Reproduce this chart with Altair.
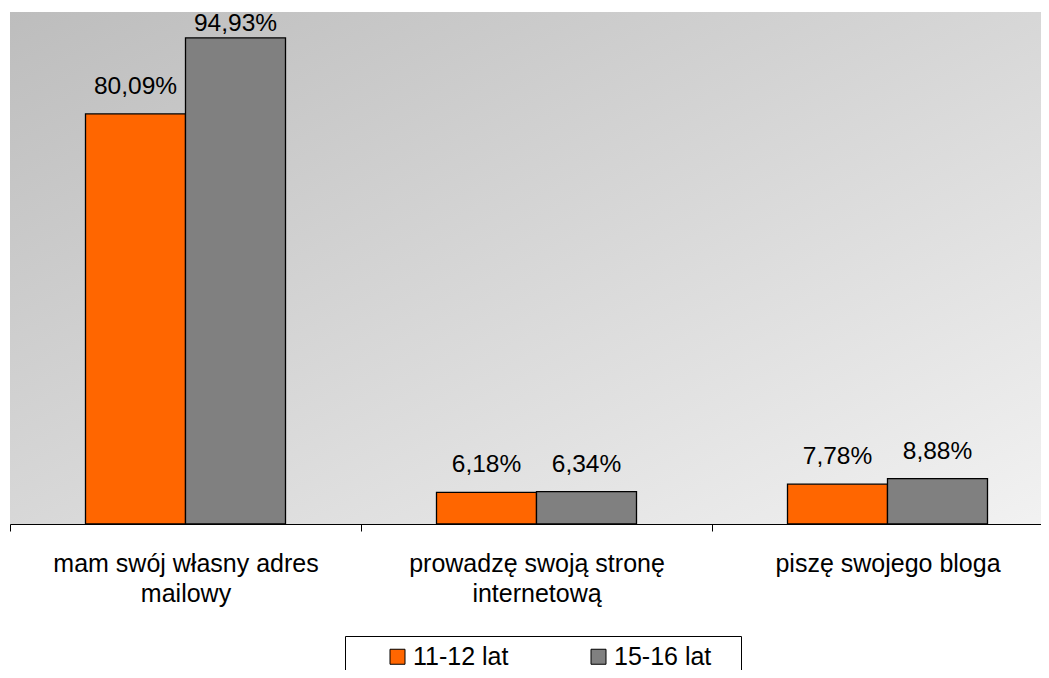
import json
import altair as alt
import pandas as pd

# ---- data ----
categories = [
    "mam swój własny adres mailowy",
    "prowadzę swoją stronę internetową",
    "piszę swojego bloga",
]
label_lines = [
    ["mam swój własny adres", "mailowy"],
    ["prowadzę swoją stronę", "internetową"],
    ["piszę swojego bloga"],
]
series = ["11-12 lat", "15-16 lat"]
values_11_12 = [80.09, 6.18, 7.78]
values_15_16 = [94.93, 6.34, 8.88]
colors = ["#FF6600", "#808080"]

rows = []
for s, vals in zip(series, [values_11_12, values_15_16]):
    for c, v in zip(categories, vals):
        rows.append({
            "kategoria": c,
            "grupa": s,
            "wartosc": v,
            "etykieta": f"{v:.2f}".replace(".", ",") + "%",
        })
df = pd.DataFrame(rows)

label_expr = ""
for c, lines in zip(categories, label_lines):
    label_expr += f"datum.label === {json.dumps(c, ensure_ascii=False)} ? {json.dumps(lines, ensure_ascii=False)} : "
label_expr += "datum.label"

FONT = "Liberation Sans"
W, H = 1053, 512          # plot area (right part runs past the window, as in the reference)
SVG_W, SVG_H = 1033, 662  # visible drawing kept inside the page

x_enc = alt.X(
    "kategoria:N",
    sort=categories,
    scale=alt.Scale(paddingInner=0, paddingOuter=0),
    axis=alt.Axis(
        title=None, labelAngle=0, labelExpr=label_expr, labelFont=FONT,
        labelFontSize=25, labelColor="black", labelLineHeight=30,
        labelPadding=20, labelLimit=500, tickSize=7, tickColor="black",
        domainColor="black", tickBand="extent", grid=False,
    ),
)
y_enc = alt.Y("wartosc:Q", scale=alt.Scale(domain=[0, 100], nice=False), axis=None)
xoff = alt.XOffset("grupa:N", sort=series,
                   scale=alt.Scale(paddingInner=0, paddingOuter=0.755))

bg = alt.Chart(pd.DataFrame({"t": [0]})).mark_rect(
    color=alt.LinearGradient(
        gradient="linear",
        stops=[alt.GradientStop(offset=0, color="#BDBDBD"),
               alt.GradientStop(offset=1, color="#F2F2F2")],
        x1=0, y1=0, x2=1, y2=1,
    )
).encode(x=alt.value(0), x2=alt.value(W), y=alt.value(0), y2=alt.value(H))

base = alt.Chart(df)

bars = base.mark_bar(stroke="black", strokeWidth=1.3).encode(
    x=x_enc,
    xOffset=xoff,
    y=y_enc,
    color=alt.Color(
        "grupa:N", sort=series,
        scale=alt.Scale(domain=series, range=colors),
        legend=alt.Legend(
            title=".", titleOrient="right", titleColor="transparent",
            titleFontSize=8, titlePadding=19,
            orient="none", legendX=335, legendY=624,
            direction="horizontal", columns=2,
            symbolType="square", symbolSize=225, symbolStrokeColor="black",
            symbolStrokeWidth=1, symbolOpacity=1,
            labelFont=FONT, labelFontSize=25, labelColor="black",
            strokeColor="black", padding=8,
            symbolOffset=32, labelOffset=3, columnPadding=45,
        ),
    ),
)

# label anchor kept inside the plot area for the tallest bar
labels = base.transform_calculate(
    poz="min(datum.wartosc, 92.4)"
).mark_text(
    dy=-20, baseline="alphabetic", fontSize=24.5, font=FONT, color="black"
).encode(
    x=x_enc, xOffset=xoff,
    y=alt.Y("poz:Q", scale=alt.Scale(domain=[0, 100], nice=False), axis=None),
    text="etykieta:N",
)

chart = alt.layer(bg, bars, labels).properties(
    width=W, height=H,
    autosize=alt.AutoSizeParams(type="none"),
    padding={"left": 2, "top": 4, "right": SVG_W - 2 - W, "bottom": SVG_H - 4 - H},
).configure_view(stroke="#8A8A8A", strokeWidth=3).configure(font=FONT)

chart.save("out.html", embed_options={"renderer": "svg", "actions": False})
